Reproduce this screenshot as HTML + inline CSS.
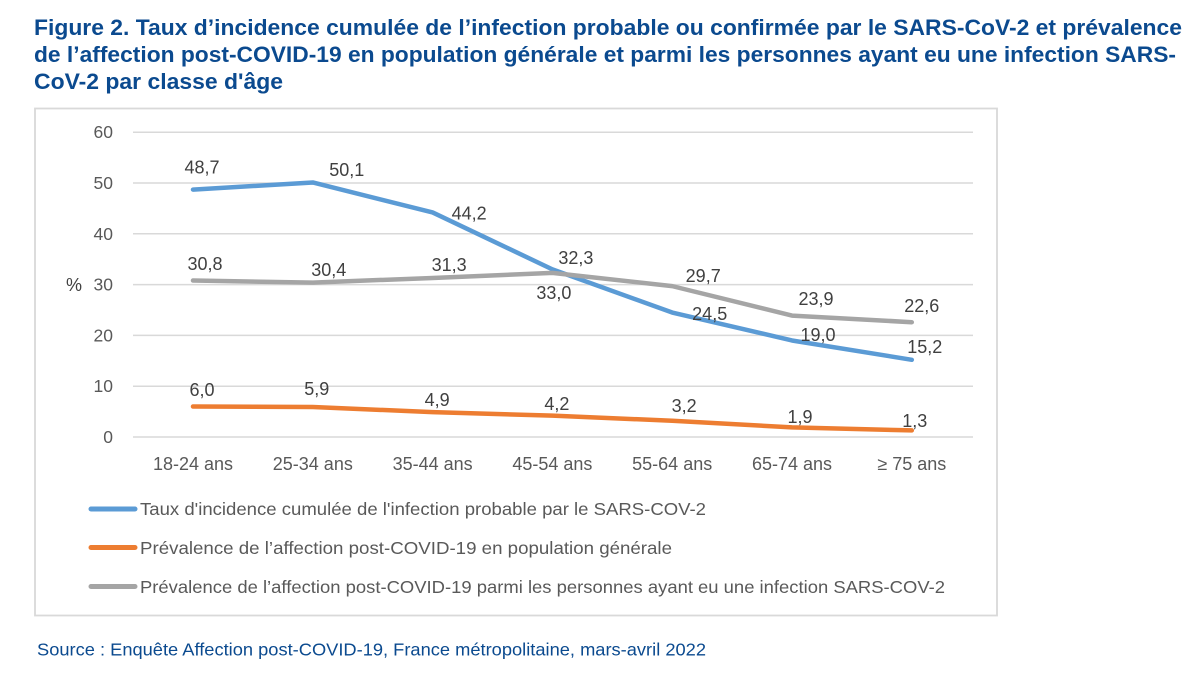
<!DOCTYPE html>
<html lang="fr">
<head>
<meta charset="utf-8">
<title>Figure 2</title>
<style>
html,body{margin:0;padding:0;background:#fff;}
body{width:1200px;height:675px;overflow:hidden;position:relative;}
svg{position:absolute;left:0;top:0;}
</style>
</head>
<body>
<svg id="chart" width="1200" height="675" viewBox="0 0 1200 675" xmlns="http://www.w3.org/2000/svg">
  <g font-family="'Liberation Sans',sans-serif" font-weight="700" font-size="22" fill="#0b4a8f">
    <text x="34" y="35" textLength="1148" lengthAdjust="spacingAndGlyphs">Figure 2. Taux d’incidence cumulée de l’infection probable ou confirmée par le SARS-CoV-2 et prévalence</text>
    <text x="34" y="62" textLength="1142" lengthAdjust="spacingAndGlyphs">de l’affection post-COVID-19 en population générale et parmi les personnes ayant eu une infection SARS-</text>
    <text x="34" y="89" textLength="249" lengthAdjust="spacingAndGlyphs">CoV-2 par classe d'âge</text>
  </g>
  <rect x="35" y="108.5" width="962" height="507" fill="#fff" stroke="#d9d9d9" stroke-width="1.8"/>
  <g id="grid"></g>
  <g id="yticks" font-family="'Liberation Sans',sans-serif" font-size="17.5" fill="#595959" text-anchor="end"></g>
  <text x="74" y="291" font-family="'Liberation Sans',sans-serif" font-size="18" fill="#404040" text-anchor="middle">%</text>
  <g id="xticks" font-family="'Liberation Sans',sans-serif" font-size="18" fill="#595959" text-anchor="middle"></g>
  <g id="series"></g>
  <g id="labels" font-family="'Liberation Sans',sans-serif" font-size="18" fill="#404040" text-anchor="middle"></g>
  <g>
    <g>
      <line x1="91" y1="509" x2="135" y2="509" stroke="#5b9bd5" stroke-width="5" stroke-linecap="round"/>
      <text x="140" y="515" font-family="'Liberation Sans',sans-serif" font-size="17.5" fill="#595959" textLength="566" lengthAdjust="spacingAndGlyphs">Taux d'incidence cumulée de l'infection probable par le SARS-COV-2</text>
    </g>
    <g>
      <line x1="91" y1="547.5" x2="135" y2="547.5" stroke="#ed7d31" stroke-width="5" stroke-linecap="round"/>
      <text x="140" y="554" font-family="'Liberation Sans',sans-serif" font-size="17.5" fill="#595959" textLength="532" lengthAdjust="spacingAndGlyphs">Prévalence de l’affection post-COVID-19 en population générale</text>
    </g>
    <g>
      <line x1="91" y1="586.5" x2="135" y2="586.5" stroke="#a5a5a5" stroke-width="5" stroke-linecap="round"/>
      <text x="140" y="593" font-family="'Liberation Sans',sans-serif" font-size="17.5" fill="#595959" textLength="805" lengthAdjust="spacingAndGlyphs">Prévalence de l’affection post-COVID-19 parmi les personnes ayant eu une infection SARS-COV-2</text>
    </g>
  </g>
  <text x="37" y="655.5" font-family="'Liberation Sans',sans-serif" font-size="17.5" fill="#0b4a8f" textLength="669" lengthAdjust="spacingAndGlyphs">Source : Enquête Affection post-COVID-19, France métropolitaine, mars-avril 2022</text>
</svg>
<script>
const categories = ["18-24 ans","25-34 ans","35-44 ans","45-54 ans","55-64 ans","65-74 ans","≥ 75 ans"];
const yTicks = [0,10,20,30,40,50,60];
const incidenceValues = [48.7,50.1,44.2,33.0,24.5,19.0,15.2];
const generalValues = [6.0,5.9,4.9,4.2,3.2,1.9,1.3];
const infectedValues = [30.8,30.4,31.3,32.3,29.7,23.9,22.6];
const incidenceLabelOffsets = [[9,-16],[34,-6.5],[36.5,7],[1.5,29.5],[37.5,7.5],[26,0.5],[13,-7]];
const generalLabelOffsets = [[9,-10.5],[4,-12],[4.5,-6],[4.5,-5.7],[12,-8.7],[8,-4.3],[3,-3.4]];
const infectedLabelOffsets = [[12,-10.5],[16,-6.6],[16.5,-7],[23.5,-9],[31,-4],[24,-10.6],[10,-10]];

const svgNS = "http://www.w3.org/2000/svg";
const x = i => 193 + i * 119.8;
const y = v => 437 - v * 5.08;
const fmt = v => v.toFixed(1).replace(".", ",");

const grid = document.getElementById("grid");
const yG = document.getElementById("yticks");
yTicks.forEach(t => {
  const l = document.createElementNS(svgNS, "line");
  l.setAttribute("x1", 133);
  l.setAttribute("x2", 973);
  l.setAttribute("y1", y(t));
  l.setAttribute("y2", y(t));
  l.setAttribute("stroke", "#d9d9d9");
  l.setAttribute("stroke-width", "1.5");
  
  
  grid.appendChild(l);
  const txt = document.createElementNS(svgNS, "text");
  txt.setAttribute("x", 113);
  txt.setAttribute("y", y(t) + 6);
  txt.textContent = t;
  
  
  yG.appendChild(txt);
});

const xG = document.getElementById("xticks");
categories.forEach((c, i) => {
  const txt = document.createElementNS(svgNS, "text");
  txt.setAttribute("x", x(i));
  txt.setAttribute("y", 470);
  txt.textContent = c;
  
  
  xG.appendChild(txt);
});

const seriesG = document.getElementById("series");
const labelsG = document.getElementById("labels");
function drawSeries(values, color, offsets) {
  const p = document.createElementNS(svgNS, "polyline");
  p.setAttribute("points", values.map((v, i) => x(i) + "," + y(v)).join(" "));
  p.setAttribute("fill", "none");
  p.setAttribute("stroke", color);
  p.setAttribute("stroke-width", "4.5");
  p.setAttribute("stroke-linecap", "round");
  p.setAttribute("stroke-linejoin", "round");
  
  
  seriesG.appendChild(p);
  values.forEach((v, i) => {
    const t = document.createElementNS(svgNS, "text");
    t.setAttribute("x", x(i) + offsets[i][0]);
    t.setAttribute("y", y(v) + offsets[i][1]);
    t.textContent = fmt(v);
    
    
    labelsG.appendChild(t);
  });
}
drawSeries(incidenceValues, "#5b9bd5", incidenceLabelOffsets);
drawSeries(generalValues, "#ed7d31", generalLabelOffsets);
drawSeries(infectedValues, "#a5a5a5", infectedLabelOffsets);
</script>
</body>
</html>
